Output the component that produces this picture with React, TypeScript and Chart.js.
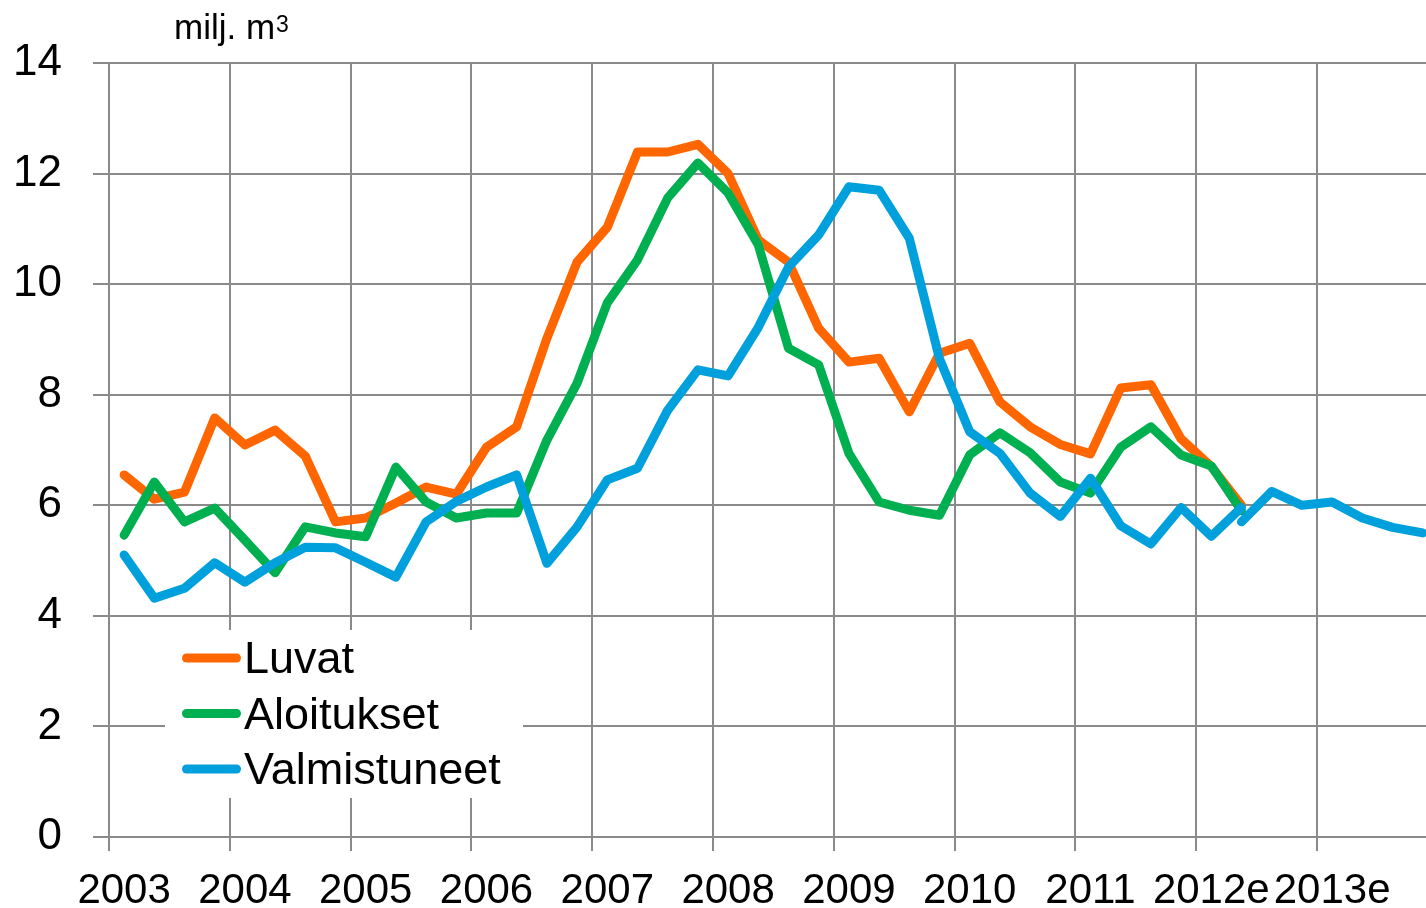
import React, { useEffect, useRef } from "react";
import { Chart, registerables } from "chart.js";

Chart.register(...registerables);

// ---- data ----
const years = ["2003", "2004", "2005", "2006", "2007", "2008", "2009", "2010", "2011", "2012e", "2013e"];
const quarters = ["Q1", "Q2", "Q3", "Q4"];

const luvat = [
  6.55, 6.11, 6.24, 7.58, 7.09, 7.36, 6.89, 5.7, 5.77, 6.04, 6.33, 6.2,
  7.05, 7.42, 9.02, 10.4, 11.03, 12.39, 12.39, 12.53, 12.0, 10.8, 10.4, 9.2,
  8.59, 8.66, 7.69, 8.75, 8.93, 7.87, 7.42, 7.1, 6.93, 8.12, 8.18, 7.2,
  6.7, 6.0,
];
const aloitukset = [
  5.46, 6.42, 5.7, 5.95, 5.37, 4.78, 5.61, 5.5, 5.43, 6.69, 6.06, 5.77,
  5.86, 5.86, 7.18, 8.21, 9.66, 10.44, 11.56, 12.19, 11.65, 10.71, 8.84, 8.54,
  6.94, 6.06, 5.91, 5.82, 6.91, 7.31, 6.95, 6.42, 6.22, 7.05, 7.42, 6.91,
  6.71, 5.9,
];
const valmistuneet = [
  5.1, 4.32, 4.5, 4.96, 4.61, 4.96, 5.24, 5.23, 4.97, 4.7, 5.7, 6.07,
  6.33, 6.55, 4.95, 5.61, 6.46, 6.67, 7.72, 8.45, 8.34, 9.22, 10.31, 10.89,
  11.76, 11.7, 10.83, 8.65, 7.33, 6.94, 6.22, 5.8, 6.49, 5.63, 5.3, 5.96,
  5.44, 5.96,
];
// estimate part of Valmistuneet (starts at the 2012 Q2 category)
const valmistuneetEnnusteStart = 37;
const valmistuneetEnnuste = [5.7, 6.25, 6.0, 6.06, 5.77, 5.6, 5.5];

const yTicks = [0, 2, 4, 6, 8, 10, 12, 14];
const unitLabel = "milj. m";
const unitSup = "3";
const seriesNames = ["Luvat", "Aloitukset", "Valmistuneet"];
const seriesColors = ["#FF6600", "#00B050", "#00A0DC"];

const FONT = "'Liberation Sans', Arial, Helvetica, sans-serif";
const GRID = "#8a8a8a";

export default function App() {
  const canvasRef = useRef<HTMLCanvasElement | null>(null);

  useEffect(() => {
    const canvas = canvasRef.current;
    if (!canvas) return;

    const labels = years.flatMap((y) => quarters.map((q) => `${y} ${q}`));
    const forecast = labels.map((_, i) =>
      i >= valmistuneetEnnusteStart && i - valmistuneetEnnusteStart < valmistuneetEnnuste.length
        ? valmistuneetEnnuste[i - valmistuneetEnnusteStart]
        : null
    );

    const lineStyle = {
      borderWidth: 9,
      pointRadius: 0,
      pointHoverRadius: 0,
      tension: 0,
      borderCapStyle: "round" as const,
      borderJoinStyle: "round" as const,
      fill: false,
      spanGaps: false,
    };

    const overlay = {
      id: "overlay",
      afterDraw(chart: any) {
        const ctx = chart.ctx as CanvasRenderingContext2D;
        ctx.save();
        // unit label
        ctx.fillStyle = "#000";
        ctx.font = `35px ${FONT}`;
        ctx.textAlign = "left";
        ctx.textBaseline = "alphabetic";
        ctx.fillText(unitLabel, 174, 39);
        const w = ctx.measureText(unitLabel).width;
        ctx.font = `23px ${FONT}`;
        ctx.fillText(unitSup, 174 + w + 1, 32);
        // legend box
        ctx.fillStyle = "#fff";
        ctx.fillRect(165, 630, 358, 168);
        const rowY = [658, 713.5, 769];
        const baseY = [673, 728.5, 784];
        seriesNames.forEach((name, i) => {
          ctx.strokeStyle = seriesColors[i];
          ctx.lineWidth = 9;
          ctx.lineCap = "round";
          ctx.beginPath();
          ctx.moveTo(186.5, rowY[i]);
          ctx.lineTo(236.5, rowY[i]);
          ctx.stroke();
          ctx.fillStyle = "#000";
          ctx.font = `45px ${FONT}`;
          ctx.fillText(name, 244, baseY[i]);
        });
        ctx.restore();
      },
    };

    const chart = new Chart(canvas, {
      type: "line",
      data: {
        labels,
        datasets: [
          { label: seriesNames[0], data: luvat, borderColor: seriesColors[0], order: 3, ...lineStyle },
          { label: seriesNames[1], data: aloitukset, borderColor: seriesColors[1], order: 2, ...lineStyle },
          { label: seriesNames[2], data: valmistuneet, borderColor: seriesColors[2], order: 1, ...lineStyle },
          { label: seriesNames[2] + " e", data: forecast, borderColor: seriesColors[2], order: 0, ...lineStyle },
        ],
      },
      options: {
        responsive: false,
        animation: false,
        devicePixelRatio: 1,
        events: [],
        layout: { padding: { left: 0, top: 63, right: 1460 - 1437.8, bottom: 0 } },
        plugins: {
          legend: { display: false },
          tooltip: { enabled: false },
          title: { display: false },
        },
        scales: {
          x: {
            type: "category",
            offset: true,
            afterFit: (s: any) => {
              s.height = 71;
            },
            grid: {
              offset: true,
              color: (c: any) => (c.index % 4 === 0 ? GRID : "rgba(0,0,0,0)"),
              lineWidth: 2,
              tickLength: 14,
              drawTicks: true,
            },
            border: { display: true, color: GRID, width: 2 },
            ticks: {
              autoSkip: false,
              maxRotation: 0,
              minRotation: 0,
              padding: 15,
              color: "#000",
              font: { family: FONT, size: 42 },
              callback: (_v: any, i: number) => (i % 4 === 0 ? years[i / 4] : ""),
            },
          },
          y: {
            min: yTicks[0],
            max: yTicks[yTicks.length - 1],
            afterFit: (s: any) => {
              s.width = 109;
            },
            afterBuildTicks: (s: any) => {
              s.ticks = yTicks.map((v) => ({ value: v }));
            },
            grid: {
              color: GRID,
              lineWidth: 2,
              tickLength: 16,
              drawTicks: true,
            },
            border: { display: true, color: GRID, width: 2 },
            ticks: {
              padding: 31,
              color: "#000",
              font: { family: FONT, size: 44 },
            },
          },
        },
      },
      plugins: [overlay],
    });

    return () => chart.destroy();
  }, []);

  return (
    <div
      style={{
        position: "fixed",
        left: 0,
        top: 0,
        width: 1426,
        height: 908,
        overflow: "hidden",
        background: "#fff",
      }}
    >
      <canvas ref={canvasRef} width={1460} height={908} style={{ display: "block" }} />
    </div>
  );
}
